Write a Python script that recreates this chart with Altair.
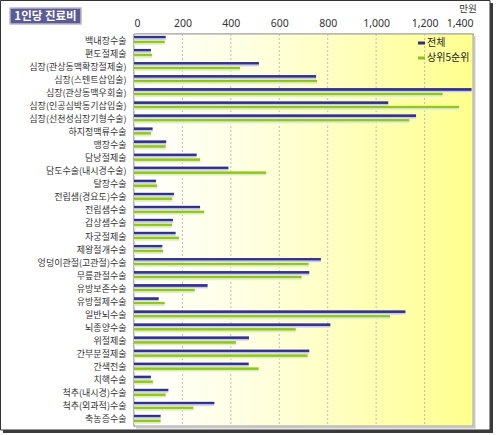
import altair as alt
import pandas as pd

categories = [
    "백내장수술", "편도절제술", "심장(관상동맥확장절제술)", "심장(스텐트삽입술)",
    "심장(관상동맥우회술)", "심장(인공심박동기삽입술)", "심장(선천성심장기형수술)",
    "하지정맥류수술", "맹장수술", "담낭절제술", "담도수술(내시경수술)", "탈장수술",
    "전립샘(경요도)수술", "전립샘수술", "갑상샘수술", "자궁절제술", "제왕절개수술",
    "엉덩이관절(고관절)수술", "무릎관절수술", "유방보존수술", "유방절제수술",
    "일반뇌수술", "뇌종양수술", "위절제술", "간부분절제술", "간색전술", "치핵수술",
    "척추(내시경)수술", "척추(외과적)수술", "축농증수술",
]
total = [131, 70, 516, 752, 1394, 1050, 1165, 77, 133, 259, 390, 91, 165, 273, 161,
         172, 117, 772, 724, 304, 102, 1121, 811, 475, 724, 474, 70, 142, 332, 110]
top5 = [127, 74, 438, 756, 1275, 1342, 1137, 70, 131, 273, 546, 95, 158, 290, 157,
        186, 120, 721, 692, 251, 127, 1057, 668, 421, 717, 515, 78, 131, 245, 110]
series = ["전체", "상위5순위"]
x_ticks = [0, 200, 400, 600, 800, 1000, 1200, 1400]
grid_ticks = [200, 400, 600, 800, 1000, 1200]
title_text = "1인당 진료비"
unit_text = "만원"

rows = []
for c, a, b in zip(categories, total, top5):
    rows.append({"category": c, "series": series[0], "value": a})
    rows.append({"category": c, "series": series[1], "value": b})
df = pd.DataFrame(rows)

W, H = 339, 392
PL, PT, PR, PB = 134, 34, 23, 9
FONT = "Noto Sans CJK KR"

def grad(stops, horizontal=False):
    return alt.LinearGradient(
        gradient="linear",
        x1=0, y1=0, x2=1 if horizontal else 0, y2=0 if horizontal else 1,
        stops=[alt.GradientStop(offset=o, color=c) for o, c in stops],
    )

blue_grad = grad([(0, "#5a5ab0"), (0.15, "#2e2e80"), (0.5, "#3a3a92"),
                  (0.56, "#b4b4e2"), (1, "#ececf8")])
green_grad = grad([(0, "#b4e040"), (0.15, "#8cc21a"), (0.5, "#96cc22"),
                   (0.56, "#d4eaa8"), (1, "#f0f6e2")])
bg_grad = grad([(0, "#ffffff"), (0.35, "#ffffe0"), (1, "#ffff8e")], horizontal=True)

x_scale = alt.Scale(domain=[0, 1400], nice=False, zero=True)
x_enc = alt.X("value:Q", scale=x_scale,
              axis=alt.Axis(orient="top", values=x_ticks, format=",d", title=None,
                            ticks=False, labelPadding=6, grid=False,
                            labelFontSize=10.5, labelColor="#333",
                            labelFont="Noto Sans", domainColor="#333", domainWidth=1.5))
y_enc = alt.Y("category:N", sort=categories,
              scale=alt.Scale(domain=categories, paddingInner=0.28, paddingOuter=0.14),
              axis=alt.Axis(title=None, ticks=False, labelPadding=8, labelFontSize=9,
                            labelColor="#333", labelFont=FONT, domainColor="#333",
                            domainWidth=1.5, labelLimit=200))
yoff = alt.YOffset("series:N", sort=series,
                   scale=alt.Scale(domain=series, paddingInner=0, paddingOuter=0))

base = alt.Chart(df)
bars_blue = base.transform_filter(alt.datum.series == series[0]).mark_bar(
    color=blue_grad).encode(x=x_enc, y=y_enc, yOffset=yoff)
bars_green = base.transform_filter(alt.datum.series == series[1]).mark_bar(
    color=green_grad).encode(x=x_enc, y=y_enc, yOffset=yoff)

grid = alt.Chart(pd.DataFrame({"t": grid_ticks})).mark_rule(
    color="#bdbdbd", strokeDash=[2, 2], strokeWidth=1).encode(
    x=alt.X("t:Q", scale=x_scale), y=alt.value(0), y2=alt.value(H))

one = alt.Chart(pd.DataFrame({"k": [0]}))

def rect(x1, x2, y1, y2, **kw):
    # page pixel coords converted to plot-relative
    return one.mark_rect(**kw).encode(
        x=alt.value(x1 - PL), x2=alt.value(x2 - PL),
        y=alt.value(y1 - PT), y2=alt.value(y2 - PT))

def text(t, x, y, **kw):
    return one.mark_text(text=t, **kw).encode(x=alt.value(x - PL), y=alt.value(y - PT))

plot_bg = rect(PL, PL + W, PT, PT + H, fill=bg_grad, stroke="#a0a0a0", strokeWidth=1)
frame = rect(0.5, 490, 0.5, 430, fill="transparent", stroke="#333", strokeWidth=1)
shadow_r = rect(490, 493, 3, 433, fill="#3a3a3a")
shadow_b = rect(3, 493, 430, 433, fill="#3a3a3a")
plot_sh_r = rect(473.5, 475.5, 36, 428, fill="#c8c8c8")
plot_sh_b = rect(136, 475.5, 426.5, 428.5, fill="#c8c8c8")

title_box = rect(10, 81, 8, 24, fill="#5a5a94", stroke="#b8b8d0", strokeWidth=1.5)
title_lbl = text(title_text, 45.5, 16.5, color="white", fontWeight="bold",
                 fontSize=11.5, font=FONT, align="center", baseline="middle")
unit_lbl = text(unit_text, 468, 9, color="#333", fontSize=9.5, font=FONT,
                align="center", baseline="middle")

leg_colors = ["#2e2e80", "#8cc21a"]
legend_layers = []
for i, (s, c) in enumerate(zip(series, leg_colors)):
    yy = 43 + 15 * i
    legend_layers.append(rect(418, 425, yy - 1.5, yy + 1.5, fill=c))
    legend_layers.append(text(s, 427, yy, color="#222", fontSize=10, font=FONT,
                              align="left", baseline="middle"))

chart = alt.layer(
    frame, shadow_r, shadow_b, plot_sh_r, plot_sh_b, plot_bg, grid,
    title_box, title_lbl, unit_lbl,
    bars_blue, bars_green, *legend_layers,
).properties(
    width=W, height=H,
    autosize=alt.AutoSizeParams(type="none"),
    padding={"left": PL, "top": PT, "right": PR, "bottom": PB},
    background="white",
).configure_view(stroke=None)

chart.save("out.html", embed_options={"renderer": "svg", "actions": False})
